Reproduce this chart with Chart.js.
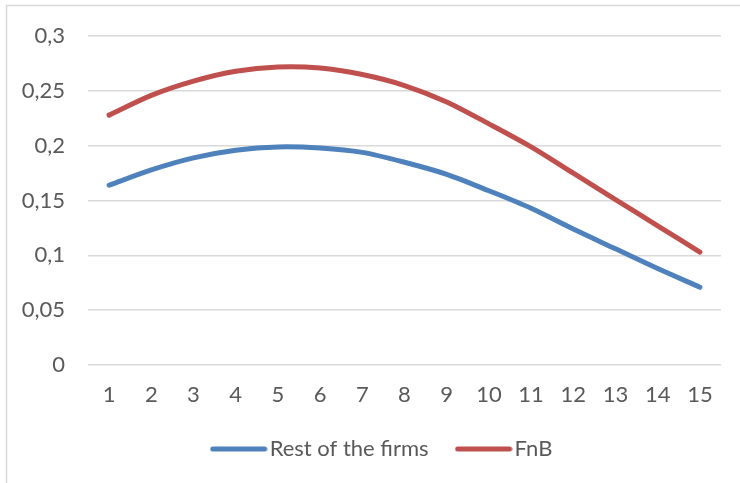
<!DOCTYPE html>
<html>
<head>
<meta charset="utf-8">
<script src="https://cdn.jsdelivr.net/npm/chart.js@4/dist/chart.umd.min.js"></script>
<style>
  html, body { margin: 0; padding: 0; background: #fff; }
  #wrap { position: relative; width: 740px; height: 483px; }
</style>
</head>
<body>
<div id="wrap"><canvas id="c" width="740" height="483"></canvas></div>
<script>
const categories = ['1','2','3','4','5','6','7','8','9','10','11','12','13','14','15'];
const restOfFirms = [0.164, 0.178, 0.189, 0.196, 0.199, 0.198, 0.194, 0.185, 0.174, 0.159, 0.143, 0.124, 0.106, 0.088, 0.071];
const fnb = [0.228, 0.246, 0.259, 0.268, 0.272, 0.271, 0.265, 0.255, 0.240, 0.220, 0.199, 0.175, 0.151, 0.127, 0.103];
const seriesNames = ['Rest of the firms', 'FnB'];
const seriesColors = ['#4F81BD', '#C0504D'];

const textColor = '#595959';
const fontFamily = 'Lato, "Open Sans", sans-serif';
const fontSize = 22;
const legendShift = 22;

function makeSwatch(color) {
  const c = document.createElement('canvas');
  c.width = 58; c.height = 6;
  const g = c.getContext('2d');
  g.strokeStyle = color;
  g.lineWidth = 5;
  g.lineCap = 'round';
  g.beginPath();
  g.moveTo(3, 3);
  g.lineTo(55, 3);
  g.stroke();
  return c;
}

const borderPlugin = {
  id: 'outerBorder',
  afterLayout(chart) {
    if (chart.legend) {
      chart.legend.left += legendShift;
      chart.legend.right += legendShift;
    }
  },
  beforeDraw(chart) {
    const ctx = chart.ctx;
    ctx.save();
    ctx.strokeStyle = '#d9d9d9';
    ctx.lineWidth = 1.5;
    ctx.beginPath();
    ctx.moveTo(6.5, 483);
    ctx.lineTo(6.5, 5.5);
    ctx.lineTo(740, 5.5);
    ctx.stroke();
    ctx.restore();
  }
};

function lineDataset(label, data, color) {
  return {
    label, data,
    borderColor: color,
    backgroundColor: color,
    borderWidth: 5,
    pointRadius: 0,
    tension: 0.3,
    borderCapStyle: 'round',
    borderJoinStyle: 'round'
  };
}

new Chart(document.getElementById('c'), {
  type: 'line',
  data: {
    labels: categories,
    datasets: [
      lineDataset(seriesNames[0], restOfFirms, seriesColors[0]),
      lineDataset(seriesNames[1], fnb, seriesColors[1])
    ]
  },
  options: {
    responsive: false,
    animation: false,
    devicePixelRatio: 1,
    layout: { padding: { left: 6, top: 35, right: 19, bottom: 13 } },
    plugins: {
      legend: {
        position: 'bottom',
        labels: {
          color: textColor,
          font: { family: fontFamily, size: fontSize },
          usePointStyle: true,
          pointStyleWidth: 40,
          boxHeight: 5,
          padding: 35,
          generateLabels(chart) {
            return chart.data.datasets.map((ds, i) => ({
              text: ds.label,
              fillStyle: ds.borderColor,
              strokeStyle: ds.borderColor,
              lineWidth: 0,
              pointStyle: makeSwatch(ds.borderColor),
              fontColor: textColor,
              hidden: false,
              datasetIndex: i
            }));
          }
        }
      },
      tooltip: { enabled: false }
    },
    scales: {
      x: {
        offset: true,
        grid: { display: false, drawTicks: false },
        border: { display: false },
        ticks: { color: textColor, font: { family: fontFamily, size: fontSize }, padding: 17, maxRotation: 0, autoSkip: false },
        afterFit(scale) { scale.height = 38; }
      },
      y: {
        min: 0,
        max: 0.3,
        grid: { color: '#d9d9d9', lineWidth: 1.5, drawTicks: false },
        border: { display: false },
        ticks: {
          stepSize: 0.05,
          color: textColor,
          font: { family: fontFamily, size: fontSize },
          padding: 23,
          callback(v) { return String(parseFloat(v.toFixed(2))).replace('.', ','); }
        },
        afterFit(scale) { scale.width = 82; }
      }
    }
  },
  plugins: [borderPlugin]
});
</script>
</body>
</html>
